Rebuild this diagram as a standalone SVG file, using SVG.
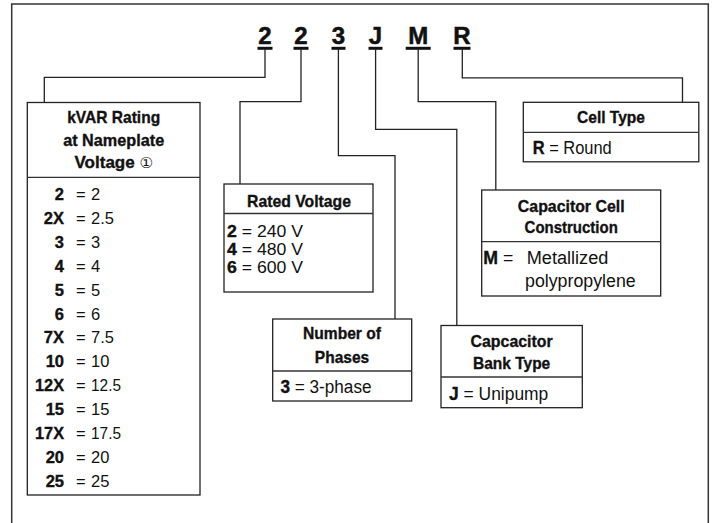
<svg xmlns="http://www.w3.org/2000/svg" width="713" height="523" viewBox="0 0 713 523">
<style>
text{font-family:"Liberation Sans",Arial,sans-serif;fill:#111}
.big{font-size:24px;font-weight:bold;text-anchor:middle;stroke:#111;stroke-width:0.5}
.h{font-size:17px;font-weight:bold;text-anchor:middle;stroke:#111;stroke-width:0.35}
.r{font-size:16.5px}
.s{font-size:18px}
.sv{font-size:16px}
.b{font-weight:bold;stroke:#111;stroke-width:0.35}
.end{text-anchor:end}
.box{fill:#fff;stroke:#222;stroke-width:1.3}
.div{stroke:#333;stroke-width:1.3}
.con{fill:none;stroke:#222;stroke-width:1.3}
.ul{stroke:#111;stroke-width:3}
.circ{font-family:"DejaVu Sans",sans-serif;font-weight:normal;font-size:15px;stroke:none}
</style>
<rect x="0" y="0" width="713" height="523" fill="#fff"/>
<path d="M11.7,530 V4 H708.3 V530" fill="none" stroke="#333" stroke-width="1.5"/>

<g id="code">
<text class="big" x="265" y="43.5">2</text>
<text class="big" x="301" y="43.5">2</text>
<text class="big" x="338.5" y="43.5">3</text>
<text class="big" x="375.5" y="43.5">J</text>
<text class="big" x="418.2" y="43.5">M</text>
<text class="big" x="462" y="43.5">R</text>
<line class="ul" x1="257.5" y1="48.3" x2="272.5" y2="48.3"/>
<line class="ul" x1="293.5" y1="48.3" x2="308.5" y2="48.3"/>
<line class="ul" x1="331.5" y1="48.3" x2="345.5" y2="48.3"/>
<line class="ul" x1="368.5" y1="48.3" x2="382.5" y2="48.3"/>
<line class="ul" x1="405.7" y1="48.3" x2="430.7" y2="48.3"/>
<line class="ul" x1="453.5" y1="48.3" x2="470.5" y2="48.3"/>
</g>

<g id="connectors">
<polyline class="con" points="265,49 265,77.3 44.3,77.3 44.3,102.5"/>
<polyline class="con" points="301,49 301,101.7 240,101.7 240,184"/>
<polyline class="con" points="338.4,49 338.4,155.6 395,155.6 395,319"/>
<polyline class="con" points="375.6,49 375.6,129.3 456.8,129.3 456.8,325.5"/>
<polyline class="con" points="418.2,49 418.2,101.7 495.8,101.7 495.8,190"/>
<polyline class="con" points="462.3,49 462.3,77.8 682.5,77.8 682.5,102.3"/>
</g>

<g id="kvar">
<rect class="box" x="27.3" y="102.5" width="172.7" height="392.5"/>
<line class="div" x1="27.3" y1="177.3" x2="200" y2="177.3"/>
<text class="h" x="113.7" y="123.3" textLength="93" lengthAdjust="spacingAndGlyphs">kVAR Rating</text>
<text class="h" x="113.7" y="146" textLength="101" lengthAdjust="spacingAndGlyphs">at Nameplate</text>
<text class="h" x="113.7" y="168.3">Voltage <tspan class="circ">①</tspan></text>
<g class="r">
<text class="b end" x="64" y="200">2</text><text x="76" y="200">=</text><text x="91" y="200">2</text>
<text class="b end" x="64" y="223.9">2X</text><text x="76" y="223.9">=</text><text x="91" y="223.9">2.5</text>
<text class="b end" x="64" y="247.8">3</text><text x="76" y="247.8">=</text><text x="91" y="247.8">3</text>
<text class="b end" x="64" y="271.7">4</text><text x="76" y="271.7">=</text><text x="91" y="271.7">4</text>
<text class="b end" x="64" y="295.6">5</text><text x="76" y="295.6">=</text><text x="91" y="295.6">5</text>
<text class="b end" x="64" y="319.5">6</text><text x="76" y="319.5">=</text><text x="91" y="319.5">6</text>
<text class="b end" x="64" y="343.4">7X</text><text x="76" y="343.4">=</text><text x="91" y="343.4">7.5</text>
<text class="b end" x="64" y="367.3">10</text><text x="76" y="367.3">=</text><text x="91" y="367.3">10</text>
<text class="b end" x="64" y="391.2" textLength="29" lengthAdjust="spacingAndGlyphs">12X</text><text x="76" y="391.2">=</text><text x="91" y="391.2" textLength="30" lengthAdjust="spacingAndGlyphs">12.5</text>
<text class="b end" x="64" y="415.1">15</text><text x="76" y="415.1">=</text><text x="91" y="415.1">15</text>
<text class="b end" x="64" y="439" textLength="29" lengthAdjust="spacingAndGlyphs">17X</text><text x="76" y="439">=</text><text x="91" y="439" textLength="30" lengthAdjust="spacingAndGlyphs">17.5</text>
<text class="b end" x="64" y="462.9">20</text><text x="76" y="462.9">=</text><text x="91" y="462.9">20</text>
<text class="b end" x="64" y="486.8">25</text><text x="76" y="486.8">=</text><text x="91" y="486.8">25</text>
</g>
</g>

<g id="rated-voltage">
<rect class="box" x="224" y="184" width="149" height="108"/>
<line class="div" x1="224" y1="213.5" x2="373" y2="213.5"/>
<text class="h" x="299" y="207" textLength="104" lengthAdjust="spacingAndGlyphs">Rated Voltage</text>
<text class="sv" x="227" y="237" textLength="76" lengthAdjust="spacingAndGlyphs"><tspan class="b">2</tspan> = 240 V</text>
<text class="sv" x="227" y="255" textLength="76" lengthAdjust="spacingAndGlyphs"><tspan class="b">4</tspan> = 480 V</text>
<text class="sv" x="227" y="273" textLength="76" lengthAdjust="spacingAndGlyphs"><tspan class="b">6</tspan> = 600 V</text>
</g>

<g id="phases">
<rect class="box" x="272.7" y="319" width="139" height="82"/>
<line class="div" x1="272.7" y1="371" x2="411.7" y2="371"/>
<text class="h" x="342" y="339" textLength="78" lengthAdjust="spacingAndGlyphs">Number of</text>
<text class="h" x="342" y="362.7" textLength="54.3" lengthAdjust="spacingAndGlyphs">Phases</text>
<text class="s" x="280.5" y="393" textLength="91" lengthAdjust="spacingAndGlyphs"><tspan class="b">3</tspan> = 3-phase</text>
</g>

<g id="bank-type">
<rect class="box" x="441" y="325.5" width="141.3" height="82.2"/>
<line class="div" x1="441" y1="377" x2="582.3" y2="377"/>
<text class="h" x="511.6" y="346.7" textLength="82" lengthAdjust="spacingAndGlyphs">Capcacitor</text>
<text class="h" x="511.6" y="369" textLength="77.3" lengthAdjust="spacingAndGlyphs">Bank Type</text>
<text class="s" x="449" y="400" textLength="99.3" lengthAdjust="spacingAndGlyphs"><tspan class="b">J</tspan> = Unipump</text>
</g>

<g id="cell-construction">
<rect class="box" x="481.7" y="190" width="179" height="106"/>
<line class="div" x1="481.7" y1="241.7" x2="660.7" y2="241.7"/>
<text class="h" x="571.2" y="211.7" textLength="106.7" lengthAdjust="spacingAndGlyphs">Capacitor Cell</text>
<text class="h" x="571.2" y="233.3" textLength="93.3" lengthAdjust="spacingAndGlyphs">Construction</text>
<text class="s" x="483.3" y="264.3" textLength="30" lengthAdjust="spacingAndGlyphs"><tspan class="b">M</tspan> =</text>
<text class="s" x="526.7" y="264.3" textLength="81.7" lengthAdjust="spacingAndGlyphs">Metallized</text>
<text class="s" x="525" y="287" textLength="110.7" lengthAdjust="spacingAndGlyphs">polypropylene</text>
</g>

<g id="cell-type">
<rect class="box" x="523.3" y="102.3" width="175.5" height="59.5"/>
<line class="div" x1="523.3" y1="132.3" x2="698.8" y2="132.3"/>
<text class="h" x="611" y="123.3" textLength="68" lengthAdjust="spacingAndGlyphs">Cell Type</text>
<text class="s" x="532.7" y="154" textLength="79" lengthAdjust="spacingAndGlyphs"><tspan class="b">R</tspan> = Round</text>
</g>
</svg>
